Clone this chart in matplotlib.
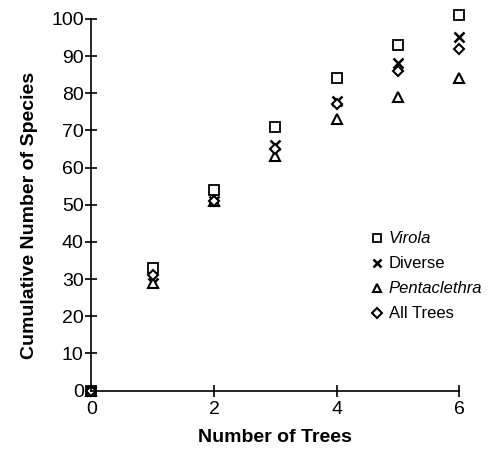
import matplotlib.pyplot as plt

plt.rcParams['font.family'] = ['Liberation Sans', 'DejaVu Sans']

# number of trees sampled
trees = [0, 1, 2, 3, 4, 5, 6]

# cumulative species counts
virola = [0, 33, 54, 71, 84, 93, 101]
diverse = [0, 29, 51, 66, 78, 88, 95]
pentaclethra = [0, 29, 51, 63, 73, 79, 84]
all_trees = [0, 31, 51, 65, 77, 86, 92]

x_ticks = [0, 2, 4, 6]
y_ticks = list(range(0, 101, 10))

fig = plt.figure(figsize=(4.96, 4.49), dpi=100)
ax = fig.add_axes([0.184, 0.130, 0.742, 0.828])

common = dict(linestyle='none', clip_on=False, color='black')
ax.plot(trees, virola, marker='s', markersize=7, markerfacecolor='white',
        markeredgewidth=1.3, label='Virola', **common)
ax.plot(trees, diverse, marker='x', markersize=7, markeredgewidth=1.8,
        label='Diverse', **common)
ax.plot(trees, pentaclethra, marker='^', markersize=6.5, markerfacecolor='white',
        markeredgewidth=1.5, label='Pentaclethra', **common)
ax.plot(trees, all_trees, marker='D', markersize=5.5, markerfacecolor='white',
        markeredgewidth=1.5, label='All Trees', **common)

ax.set_xlim(0, 6)
ax.set_ylim(0, 100)
ax.set_xticks(x_ticks)
ax.set_yticks(y_ticks)
ax.spines['top'].set_visible(False)
ax.spines['right'].set_visible(False)
ax.spines['left'].set_linewidth(1.2)
ax.spines['bottom'].set_linewidth(1.2)
ax.tick_params(direction='inout', length=9, width=1.2, labelsize=14)
ax.tick_params(axis='x', pad=3)
ax.tick_params(axis='y', pad=1)

ax.set_xlabel('Number of Trees', fontsize=14, fontweight='bold', labelpad=8)
ax.set_ylabel('Cumulative Number of Species', fontsize=14, fontweight='bold')
ax.yaxis.set_label_coords(-0.145, 0.47)

leg = ax.legend(loc='upper left', bbox_to_anchor=(0.74, 0.446), frameon=False,
                fontsize=12, handlelength=0.8, handletextpad=0.3,
                labelspacing=0.6, borderaxespad=0)
for txt in leg.get_texts():
    if txt.get_text() in ('Virola', 'Pentaclethra'):
        txt.set_style('italic')
for h in leg.legend_handles:
    h.set_markersize(5.5)

fig.savefig('out.png', dpi=100)
